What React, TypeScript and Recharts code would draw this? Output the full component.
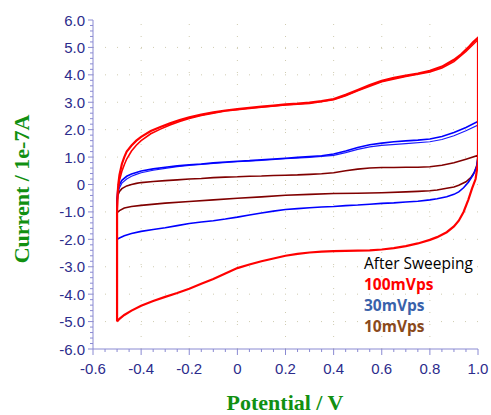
import React from 'react';
import { LineChart, Line, XAxis, YAxis, ReferenceLine } from 'recharts';

// axis ticks
const xMajorTicks = [-0.6, -0.4, -0.2, 0, 0.2, 0.4, 0.6, 0.8, 1.0];
const yMajorTicks = [-6, -5, -4, -3, -2, -1, 0, 1, 2, 3, 4, 5, 6];
const X_MINOR_PER_MAJOR = 4;
const Y_MINOR_PER_MAJOR = 5;

// legend labels
const legendTitle = 'After Sweeping';
const seriesNames = ['100mVps', '30mVps', '10mVps'];

// [potential V, current 1e-7A]
const red100Loop: [number, number][] = [
  [-0.5, -5.0], [-0.5, -2.5], [-0.5, -1.0], [-0.498, -0.4], [-0.495, 0.0], [-0.49, 0.35], [-0.48, 0.75],
  [-0.47, 1.0], [-0.46, 1.2], [-0.44, 1.42], [-0.42, 1.6], [-0.4, 1.74], [-0.36, 1.95], [-0.32, 2.1],
  [-0.28, 2.23], [-0.24, 2.35], [-0.2, 2.45], [-0.15, 2.55], [-0.1, 2.63], [-0.05, 2.7], [0, 2.75],
  [0.05, 2.8], [0.1, 2.84], [0.15, 2.88], [0.2, 2.92], [0.25, 2.95], [0.3, 2.99], [0.35, 3.04], [0.4, 3.12],
  [0.45, 3.27], [0.5, 3.45], [0.55, 3.63], [0.6, 3.78], [0.65, 3.89], [0.7, 3.97], [0.75, 4.05], [0.8, 4.15],
  [0.85, 4.3], [0.9, 4.55], [0.93, 4.75], [0.96, 5.0], [0.98, 5.2], [1.0, 5.35], [1.0, 3.0], [1.0, 0.8],
  [0.99, 0.2], [0.975, -0.15], [0.96, -0.55], [0.94, -1.0], [0.92, -1.32], [0.9, -1.53], [0.87, -1.74],
  [0.83, -1.92], [0.8, -2.02], [0.75, -2.15], [0.7, -2.25], [0.65, -2.32], [0.6, -2.37], [0.55, -2.4],
  [0.5, -2.41], [0.45, -2.42], [0.4, -2.43], [0.35, -2.45], [0.3, -2.48], [0.25, -2.53], [0.2, -2.6],
  [0.15, -2.7], [0.1, -2.8], [0.05, -2.92], [0, -3.05], [-0.05, -3.25], [-0.1, -3.45], [-0.15, -3.62],
  [-0.2, -3.8], [-0.25, -3.96], [-0.3, -4.1], [-0.35, -4.25], [-0.4, -4.42], [-0.44, -4.6], [-0.47, -4.76],
  [-0.49, -4.9], [-0.5, -5.0],
];

const red100Cycle2: [number, number][] = [
  [-0.5, -1.0], [-0.497, -0.3], [-0.49, 0.15], [-0.48, 0.48], [-0.47, 0.72], [-0.46, 0.93], [-0.44, 1.22],
  [-0.42, 1.43], [-0.4, 1.6], [-0.36, 1.85], [-0.32, 2.02], [-0.28, 2.17], [-0.24, 2.3], [-0.2, 2.41],
  [-0.15, 2.52], [-0.1, 2.6], [-0.05, 2.68], [0, 2.73], [0.1, 2.82], [0.2, 2.9], [0.3, 2.96], [0.4, 3.09],
  [0.45, 3.24], [0.5, 3.42], [0.6, 3.75], [0.7, 3.94], [0.8, 4.1], [0.85, 4.25], [0.9, 4.48], [0.95, 4.85],
  [1.0, 5.28],
];

const blue30Loop: [number, number][] = [
  [-0.5, -2.0], [-0.5, -1.0], [-0.5, -0.5], [-0.497, -0.2], [-0.49, 0.0], [-0.48, 0.15], [-0.46, 0.3],
  [-0.44, 0.38], [-0.42, 0.44], [-0.4, 0.49], [-0.35, 0.57], [-0.3, 0.63], [-0.25, 0.68], [-0.2, 0.72],
  [-0.15, 0.75], [-0.1, 0.79], [-0.05, 0.82], [0, 0.85], [0.05, 0.87], [0.1, 0.9], [0.15, 0.93], [0.2, 0.96],
  [0.25, 0.99], [0.3, 1.02], [0.35, 1.05], [0.4, 1.11], [0.45, 1.22], [0.5, 1.35], [0.55, 1.45], [0.6, 1.51],
  [0.65, 1.56], [0.7, 1.59], [0.75, 1.62], [0.8, 1.66], [0.85, 1.75], [0.9, 1.9], [0.95, 2.08], [1.0, 2.3],
  [1.0, 1.0], [0.995, 0.65], [0.98, 0.35], [0.96, 0.08], [0.94, -0.12], [0.92, -0.27], [0.9, -0.36],
  [0.87, -0.45], [0.83, -0.52], [0.8, -0.56], [0.75, -0.61], [0.7, -0.64], [0.65, -0.67], [0.6, -0.69],
  [0.55, -0.72], [0.5, -0.75], [0.45, -0.77], [0.4, -0.8], [0.35, -0.82], [0.3, -0.85], [0.25, -0.88],
  [0.2, -0.91], [0.15, -0.97], [0.1, -1.04], [0.05, -1.11], [0, -1.19], [-0.05, -1.26], [-0.1, -1.32],
  [-0.15, -1.37], [-0.2, -1.42], [-0.25, -1.5], [-0.3, -1.58], [-0.35, -1.64], [-0.4, -1.71], [-0.44, -1.79],
  [-0.47, -1.87], [-0.49, -1.95], [-0.5, -2.0],
];

const blue30Cycle2: [number, number][] = [
  [-0.5, -0.8], [-0.497, -0.35], [-0.49, -0.12], [-0.48, 0.05], [-0.46, 0.2], [-0.44, 0.3], [-0.42, 0.37],
  [-0.4, 0.43], [-0.35, 0.52], [-0.3, 0.59], [-0.25, 0.65], [-0.2, 0.7], [-0.1, 0.77], [0, 0.83], [0.1, 0.88],
  [0.2, 0.94], [0.3, 0.99], [0.4, 1.06], [0.45, 1.16], [0.5, 1.28], [0.55, 1.37], [0.6, 1.43], [0.7, 1.49],
  [0.8, 1.56], [0.85, 1.64], [0.9, 1.78], [0.95, 1.96], [1.0, 2.17],
];

const brown10Loop: [number, number][] = [
  [-0.5, -1.03], [-0.5, -0.6], [-0.497, -0.4], [-0.49, -0.25], [-0.48, -0.15], [-0.46, -0.05], [-0.44, 0.0],
  [-0.42, 0.04], [-0.4, 0.07], [-0.35, 0.11], [-0.3, 0.14], [-0.25, 0.17], [-0.2, 0.2], [-0.15, 0.22],
  [-0.1, 0.25], [-0.05, 0.27], [0, 0.28], [0.05, 0.3], [0.1, 0.31], [0.15, 0.33], [0.2, 0.34], [0.25, 0.35],
  [0.3, 0.37], [0.35, 0.39], [0.4, 0.43], [0.45, 0.5], [0.5, 0.56], [0.55, 0.6], [0.6, 0.62], [0.65, 0.62],
  [0.7, 0.63], [0.75, 0.63], [0.8, 0.65], [0.85, 0.7], [0.9, 0.79], [0.95, 0.92], [1.0, 1.06],
  [0.995, 0.7], [0.985, 0.45], [0.97, 0.25], [0.95, 0.1], [0.92, -0.03], [0.9, -0.09], [0.87, -0.14],
  [0.83, -0.2], [0.8, -0.23], [0.75, -0.25], [0.7, -0.27], [0.6, -0.3], [0.5, -0.32], [0.4, -0.33],
  [0.3, -0.36], [0.2, -0.39], [0.1, -0.45], [0, -0.5], [-0.1, -0.56], [-0.2, -0.62], [-0.3, -0.68],
  [-0.4, -0.76], [-0.44, -0.8], [-0.47, -0.86], [-0.49, -0.95], [-0.5, -1.03],
];

const AXIS = '#8a8ad2';
const TICK_TEXT = '#2c2c8c';
const GRID = '#cfcbb0';
const TITLE = '#119011';

const toRows = (pts: [number, number][]) => pts.map(([v, i]) => ({ v, i }));

const subdivide = (majors: number[], n: number) => {
  const out: number[] = [];
  for (let k = 0; k < majors.length - 1; k++) {
    for (let j = 0; j < n; j++) out.push(+(majors[k] + ((majors[k + 1] - majors[k]) * j) / n).toFixed(4));
  }
  out.push(majors[majors.length - 1]);
  return out;
};

const xAllTicks = subdivide(xMajorTicks, X_MINOR_PER_MAJOR);
const yAllTicks = subdivide(yMajorTicks, Y_MINOR_PER_MAJOR);

const isMajor = (v: number, majors: number[]) => majors.some((m) => Math.abs(m - v) < 1e-6);
const fmt = (v: number) => (Math.abs(v) < 1e-9 ? '0' : v.toFixed(1));
const tickFont = { fontFamily: '"Liberation Sans", Arial, sans-serif', fontSize: 15 };

const BottomTick = ({ x, y, payload }: any) => {
  const major = isMajor(payload.value, xMajorTicks);
  return (
    <g>
      <line x1={x} x2={x} y1={y} y2={y + (major ? 6 : 3)} stroke={AXIS} />
      {major && (
        <text x={x} y={y + 25} textAnchor="middle" fill={TICK_TEXT} {...tickFont}>
          {fmt(payload.value)}
        </text>
      )}
    </g>
  );
};

const TopTick = ({ x, y, payload }: any) => {
  const major = isMajor(payload.value, xMajorTicks);
  return <line x1={x} x2={x} y1={y} y2={y - (major ? 6 : 3)} stroke={AXIS} />;
};

const LeftTick = ({ x, y, payload }: any) => {
  const major = isMajor(payload.value, yMajorTicks);
  return (
    <g>
      <line x1={x} x2={x - (major ? 5 : 3)} y1={y} y2={y} stroke={AXIS} />
      {major && (
        <text x={x - 8} y={y + 5.5} textAnchor="end" fill={TICK_TEXT} {...tickFont}>
          {fmt(payload.value)}
        </text>
      )}
    </g>
  );
};

const RightTick = ({ x, y, payload }: any) => {
  const major = isMajor(payload.value, yMajorTicks);
  return <line x1={x} x2={x + (major ? 5 : 3)} y1={y} y2={y} stroke={AXIS} />;
};

const legendColors = ['#ff0000', '#3a62aa', '#8a4a1c'];

export default function App() {
  return (
    <div style={{ position: 'absolute', left: 0, top: 0, width: 491, height: 415, background: '#fff', overflow: 'hidden' }}>
      <LineChart width={491} height={415} margin={{ top: 20, right: 13, bottom: 0, left: 0 }}>
        <XAxis
          dataKey="v"
          type="number"
          domain={[-0.6, 1]}
          allowDataOverflow
          ticks={xAllTicks}
          interval={0}
          tickLine={false}
          tickSize={0}
          tickMargin={0}
          tick={<BottomTick />}
          axisLine={{ stroke: AXIS }}
          height={66}
        />
        <XAxis
          xAxisId="top"
          orientation="top"
          type="number"
          domain={[-0.6, 1]}
          allowDataOverflow
          ticks={xAllTicks}
          interval={0}
          tickLine={false}
          tickSize={0}
          tickMargin={0}
          tick={<TopTick />}
          axisLine={{ stroke: AXIS }}
          height={0}
        />
        <YAxis
          type="number"
          domain={[-6, 6]}
          allowDataOverflow
          ticks={yAllTicks}
          interval={0}
          tickLine={false}
          tickSize={0}
          tickMargin={0}
          tick={<LeftTick />}
          axisLine={{ stroke: AXIS }}
          width={93}
        />
        <YAxis
          yAxisId="right"
          orientation="right"
          type="number"
          domain={[-6, 6]}
          allowDataOverflow
          ticks={yAllTicks}
          interval={0}
          tickLine={false}
          tickSize={0}
          tickMargin={0}
          tick={<RightTick />}
          axisLine={{ stroke: AXIS }}
          width={0}
        />
        {xMajorTicks.slice(1, -1).map((v) => (
          <ReferenceLine key={'gx' + v} x={v} stroke={GRID} strokeDasharray="1 11" />
        ))}
        {yMajorTicks.slice(1, -1).map((v) => (
          <ReferenceLine key={'gy' + v} y={v} stroke={GRID} strokeDasharray="1 11" />
        ))}
        <Line data={toRows(brown10Loop)} dataKey="i" stroke="#800000" strokeWidth={1.6} dot={false} type="linear" isAnimationActive={false} />
        <Line data={toRows(blue30Cycle2)} dataKey="i" stroke="#1a1aff" strokeWidth={1.2} dot={false} type="linear" isAnimationActive={false} />
        <Line data={toRows(blue30Loop)} dataKey="i" stroke="#0000ff" strokeWidth={1.6} dot={false} type="linear" isAnimationActive={false} />
        <Line data={toRows(red100Cycle2)} dataKey="i" stroke="#ff0000" strokeWidth={1.6} dot={false} type="linear" isAnimationActive={false} />
        <Line data={toRows(red100Loop)} dataKey="i" stroke="#ff0000" strokeWidth={2.2} dot={false} type="linear" isAnimationActive={false} />
      </LineChart>

      <div
        style={{
          position: 'absolute', left: 22, top: 189, transform: 'translate(-50%, -50%) rotate(-90deg)',
          whiteSpace: 'nowrap', fontFamily: '"Liberation Serif", "Times New Roman", serif', fontWeight: 'bold',
          fontSize: 22, lineHeight: '22px', color: TITLE,
        }}
      >
        Current / 1e-7A
      </div>
      <div
        style={{
          position: 'absolute', left: 285, top: 393, transform: 'translateX(-50%)', whiteSpace: 'nowrap',
          fontFamily: '"Liberation Serif", "Times New Roman", serif', fontWeight: 'bold', fontSize: 22,
          lineHeight: '20px', color: TITLE,
        }}
      >
        Potential / V
      </div>

      <div style={{ position: 'absolute', left: 364, top: 253, fontFamily: '"Open Sans", Lato, sans-serif', fontSize: 15.5, lineHeight: '21px' }}>
        <div style={{ color: '#000' }}>{legendTitle}</div>
        {seriesNames.map((n, k) => (
          <div key={n} style={{ color: legendColors[k], fontWeight: 'bold' }}>{n}</div>
        ))}
      </div>
    </div>
  );
}
